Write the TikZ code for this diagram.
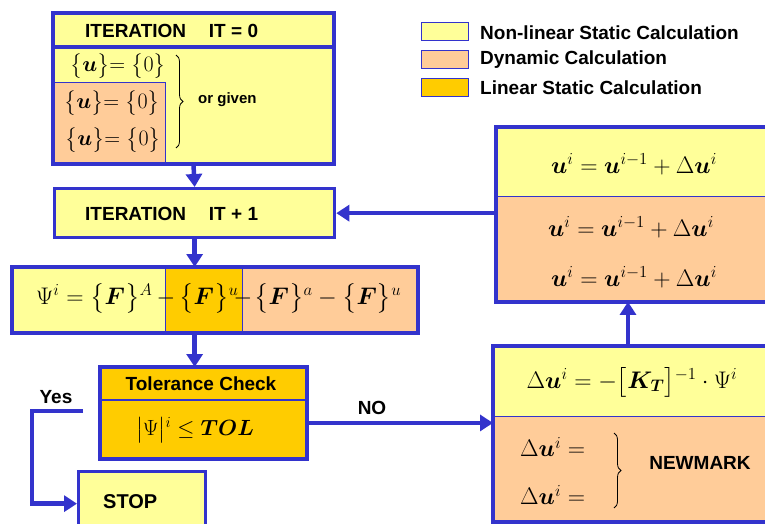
\RequirePackage{fix-cm}
\documentclass[tikz,border=0pt]{standalone}
\usepackage{amsmath,bm}
\usepackage[no-math]{fontspec}
\setmainfont{Liberation Sans}
\usetikzlibrary{arrows.meta,decorations.pathreplacing}
\definecolor{nlyellow}{HTML}{FFFF99}
\definecolor{dynpeach}{HTML}{FFCC99}
\definecolor{lingold}{HTML}{FFCC00}
\definecolor{flowblue}{HTML}{3333CC}

\begin{document}
\begin{tikzpicture}[x=1pt, y=-1pt,
    cell/.style={draw=flowblue, line width=0.9pt, inner sep=0pt, anchor=north west},
    boxframe/.style={draw=flowblue, line width=3.3pt},
    key/.style={draw=flowblue, line width=1.2pt, inner sep=0pt, anchor=north west,
        minimum width=47pt, minimum height=18pt},
    lbl/.style={font=\bfseries\fontsize{19}{22}\selectfont, inner sep=0pt},
    eq/.style={font=\fontsize{24}{28}\selectfont, inner sep=0pt},
    flowarrow/.style={draw=flowblue, line width=4.5pt, -{Triangle[width=16pt,length=13pt]}}]
    \clip (0,0) rectangle (765,524);

    % Legend
    \node[key, fill=nlyellow] (k1) at (421,22) {};
    \node[key, fill=dynpeach] (k2) at (421,50) {};
    \node[key, fill=lingold] (k3) at (421,78) {};
    \node[lbl, anchor=west] (k1txt) at (480,33) {Non-linear Static Calculation};
    \node[lbl, anchor=west] (k2txt) at (480,60) {Dynamic Calculation};
    \node[lbl, anchor=west] (k3txt) at (480,88) {Linear Static Calculation};

    % Iteration IT = 0
    \node[cell, fill=nlyellow, minimum width=280pt, minimum height=33pt] (it0) at (53,13) {};
    \node[cell, fill=nlyellow, minimum width=280pt, minimum height=117pt] (it0b) at (53,46) {};
    \node[cell, fill=dynpeach, minimum width=112pt, minimum height=81pt] (dyn0) at (53,82) {};
    \draw[boxframe] (it0.north west) rectangle (it0b.south east);
    \draw[boxframe] (it0.south west) -- (it0.south east);
    \node[lbl, anchor=west] (it0txt) at (85,31) {ITERATION\hspace{1.2em}IT = 0};
    \node[eq, font=\fontsize{22}{26}\selectfont] (u0) at (118,66) {$\big\{\bm u\big\}{=}\;\big\{0\big\}$};
    \node[eq, font=\fontsize{22}{26}\selectfont] (v0) at (112,103) {$\big\{\bm u\big\}{=}\;\big\{0\big\}$};
    \node[eq, font=\fontsize{22}{26}\selectfont] (a0) at (113,140) {$\big\{\bm u\big\}{=}\;\big\{0\big\}$};
    \draw[decorate, decoration={brace, amplitude=7pt}, line width=0.8pt] (176,55) -- (176,148);
    \node[lbl, anchor=west, font=\bfseries\fontsize{15}{18}\selectfont] (given) at (198,100) {or given};

    % Iteration IT + 1
    \node[cell, fill=nlyellow, line width=3.3pt, minimum width=280pt, minimum height=49pt] (it1) at (53,187) {};
    \node[lbl, anchor=west] (it1txt) at (85,214) {ITERATION\hspace{1.2em}IT + 1};

    % Residual
    \node[cell, fill=nlyellow, minimum width=153pt, minimum height=65pt] (psiA) at (12,267) {};
    \node[cell, fill=lingold, minimum width=77pt, minimum height=65pt] (psiB) at (165,267) {};
    \node[cell, fill=dynpeach, minimum width=175pt, minimum height=65pt] (psiC) at (242,267) {};
    \draw[boxframe] (psiA.north west) rectangle (psiC.south east);
    \node[eq, anchor=west] (psiL) at (36,298) {$\Psi^{i}=\big\{\bm F\big\}{}^{A}$};
    \node[eq] (psim1) at (166,298) {$-$};
    \node[eq, anchor=west] (psiM) at (179,298) {$\big\{\bm F\big\}{}^{u}$};
    \node[eq] (psim2) at (243,298) {$-$};
    \node[eq, anchor=west] (psiR) at (254,298) {$\big\{\bm F\big\}{}^{a}-\big\{\bm F\big\}{}^{u}$};

    % Tolerance check
    \node[cell, fill=lingold, minimum width=206pt, minimum height=32pt] (tol) at (100,367) {};
    \node[cell, fill=lingold, minimum width=206pt, minimum height=59pt] (tolb) at (100,399) {};
    \draw[boxframe] (tol.north west) rectangle (tolb.south east);
    \draw[boxframe, line width=2.2pt] (tol.south west) -- (tol.south east);
    \node[lbl] (toltxt) at (201,384) {Tolerance Check};
    \node[eq, font=\fontsize{22}{26}\selectfont] (tolq) at (195,430) {$\big|\Psi\big|{}^{i}\le\bm{TOL}$};

    % Stop
    \node[cell, fill=nlyellow, line width=3.3pt, minimum width=127pt, minimum height=64pt] (stop) at (77,470) {};
    \node[lbl, anchor=west, font=\bfseries\fontsize{20}{24}\selectfont] (stoptxt) at (103,502) {STOP};

    % Update of the unknowns
    \node[cell, fill=nlyellow, minimum width=300pt, minimum height=69pt] (upd) at (496,127) {};
    \node[cell, fill=dynpeach, minimum width=300pt, minimum height=105pt] (updb) at (496,196) {};
    \draw[boxframe] (upd.north west) rectangle (updb.south east);
    \node[eq] (upd1) at (634,164) {$\bm u^{i}=\bm u^{i-1}+\Delta\bm u^{i}$};
    \node[eq] (upd2) at (631,227) {$\bm u^{i}=\bm u^{i-1}+\Delta\bm u^{i}$};
    \node[eq] (upd3) at (634,277) {$\bm u^{i}=\bm u^{i-1}+\Delta\bm u^{i}$};

    % Increment
    \node[cell, fill=nlyellow, minimum width=300pt, minimum height=70pt] (dx) at (493,346) {};
    \node[cell, fill=dynpeach, minimum width=300pt, minimum height=105pt] (dxb) at (493,416) {};
    \draw[boxframe] (dx.north west) rectangle (dxb.south east);
    \node[eq] (dxq) at (632,382) {$\Delta\bm u^{i}=-\big[\bm K_{\bm T}\big]{}^{-1}\cdot\Psi^{i}$};
    \node[eq, anchor=west] (dv) at (520,447) {$\Delta\bm u^{i}=$};
    \node[eq, anchor=west] (da) at (520,495) {$\Delta\bm u^{i}=$};
    \draw[decorate, decoration={brace, amplitude=7pt}, line width=0.8pt] (614,433) -- (614,508);
    \node[lbl] (nmk) at (700,463) {NEWMARK};

    % Connectors
    \draw[flowarrow] (it0b.south) -- (it1.north);
    \draw[flowarrow] (it1.south) -- (it1.south |- psiB.north);
    \draw[flowarrow] (it1.south |- psiB.south) -- (it1.south |- tol.north);
    \draw[flowarrow] ([yshift=6pt]tolb.east) -- ([yshift=6pt]tolb.east -| dxb.west);
    \node[lbl] (no) at (372,408) {NO};
    \coordinate (upx) at (628,0);
    \draw[flowarrow] (dx.north -| upx) -- (updb.south -| upx);
    \draw[flowarrow] (it1.east -| updb.west) -- (it1.east);
    \coordinate (yesend) at (83,411);
    \coordinate (yescorner) at (32,411);
    \draw[flowarrow] (yesend) -- (yescorner) |- (stop.west);
    \node[lbl] (yes) at (56,397) {Yes};
\end{tikzpicture}
\end{document}
